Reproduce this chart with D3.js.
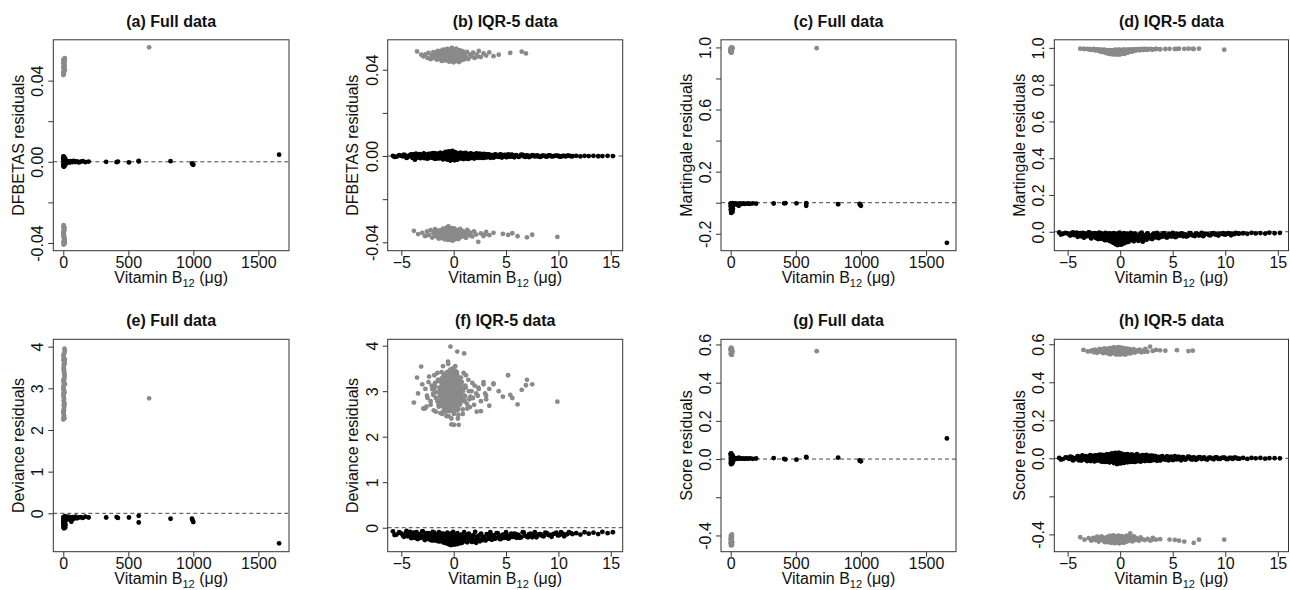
<!DOCTYPE html>
<html>
<head>
<meta charset="utf-8">
<script src="https://cdn.jsdelivr.net/npm/d3@7"></script>
<style>
  body { margin: 0; background: #fff; }
  text { font-family: "Liberation Sans", Arial, sans-serif; fill: #111; }
</style>
</head>
<body>
<svg id="chart" width="1290" height="590"></svg>
<script>
// ---------- IQR-5 data: censored subjects (black) ----------
const iqrCensoredX = [
  -5.8, -5.45, -5.2, -4.85, -4.6, -4.4, -4.15, -3.95, -3.85, -3.7,
  -3.55, -3.4, -3.25, -3.1, -2.95, -2.8, -2.7, -2.55, -2.4, -2.3,
  -2.15, -2.0, -1.9, -1.8, -1.7, -1.6, -1.5, -1.4, -1.3, -1.2,
  -1.1, -1.0, -0.95, -0.88, -0.8, -0.74, -0.68, -0.6, -0.55, -0.5,
  -0.45, -0.4, -0.35, -0.3, -0.25, -0.2, -0.15, -0.1, -0.05, 0.0,
  0.05, 0.1, 0.16, 0.22, 0.3, 0.36, 0.42, 0.5, 0.6, 0.7,
  0.8, 0.9, 1.0, 1.1, 1.2, 1.3, 1.4, 1.5, 1.6, 1.72,
  1.85, 1.95, 2.05, 2.15, 2.25, 2.35, 2.5, 2.62, 2.78, 2.9,
  3.05, 3.2, 3.35, 3.5, 3.68, 3.85, 4.0, 4.2, 4.4, 4.6,
  4.8, 5.0, 5.2, 5.4, 5.6, 5.8, 6.0, 6.2, 6.45, 6.7,
  6.95, 7.2, 7.5, 7.75, 8.0, 8.3, 8.6, 8.9, 9.2, 9.5,
  9.8, 10.1, 10.4, 10.7, 11.0, 11.35, 11.7, 12.1, 12.5, 12.9,
  13.35, 13.8, 14.2, 14.7, 15.2
];
const iqrDfbetasCensored = [
  0.0001, -0.0003, 0.0004, -0.0002, 0.0003, -0.0006, 0.0005, -0.0008, 0.0007, -0.0017,
  0.0006, -0.0007, 0.0009, -0.0005, 0.0008, -0.0010, 0.0004, -0.0012, 0.0010, -0.0006,
  0.0011, -0.0009, 0.0007, -0.0013, 0.0012, -0.0004, 0.0009, -0.0011, 0.0014, -0.0008,
  0.0006, -0.0015, 0.0013, -0.0007, 0.0016, -0.0012, 0.0005, -0.0017, 0.0015, -0.0009,
  0.0018, -0.0014, 0.0008, -0.0019, 0.0012, -0.0010, 0.0020, -0.0016, 0.0007, -0.0013,
  0.0017, -0.0011, 0.0014, -0.0008, 0.0010, -0.0015, 0.0012, -0.0006, 0.0009, -0.0012,
  0.0011, -0.0007, 0.0013, -0.0010, 0.0006, -0.0013, 0.0008, -0.0005, 0.0012, -0.0009,
  0.0007, -0.0011, 0.0010, -0.0004, 0.0008, -0.0009, 0.0011, -0.0006, 0.0005, -0.0008,
  0.0009, -0.0005, 0.0007, -0.0008, 0.0004, -0.0006, 0.0008, -0.0003, 0.0006, -0.0007,
  0.0004, -0.0005, 0.0007, -0.0003, 0.0005, -0.0006, 0.0003, -0.0004, 0.0006, -0.0002,
  0.0003, -0.0005, 0.0004, -0.0002, 0.0003, -0.0004, 0.0002, -0.0003, 0.0003, -0.0001,
  0.0002, -0.0003, 0.0001, -0.0002, 0.0002, -0.0001, 0.0001, -0.0002, 0.0001, 0.0000,
  0.0001, -0.0001, 0.0000, 0.0001, 0.0000
];
const iqrMartingaleCensored = [
  -0.004, -0.012, -0.006, -0.015, -0.008, -0.018, -0.005, -0.022, -0.010, -0.025,
  -0.006, -0.028, -0.012, -0.020, -0.004, -0.031, -0.015, -0.026, -0.008, -0.034,
  -0.018, -0.005, -0.038, -0.024, -0.011, -0.041, -0.029, -0.006, -0.045, -0.020,
  -0.034, -0.009, -0.050, -0.026, -0.014, -0.055, -0.040, -0.007, -0.062, -0.031,
  -0.018, -0.068, -0.045, -0.010, -0.072, -0.036, -0.022, -0.065, -0.005, -0.052,
  -0.029, -0.070, -0.014, -0.058, -0.040, -0.008, -0.061, -0.025, -0.048, -0.012,
  -0.055, -0.033, -0.006, -0.046, -0.020, -0.052, -0.011, -0.038, -0.027, -0.049,
  -0.015, -0.042, -0.005, -0.054, -0.030, -0.018, -0.044, -0.009, -0.036, -0.024,
  -0.040, -0.012, -0.030, -0.006, -0.034, -0.020, -0.026, -0.008, -0.031, -0.015,
  -0.024, -0.006, -0.028, -0.013, -0.020, -0.009, -0.025, -0.014, -0.022, -0.007,
  -0.018, -0.010, -0.021, -0.006, -0.016, -0.011, -0.019, -0.008, -0.014, -0.010,
  -0.007, -0.013, -0.009, -0.012, -0.006, -0.010, -0.008, -0.011, -0.006, -0.009,
  -0.007, -0.010, -0.005, -0.008, -0.006
];
const iqrDevianceCensored = [
  -0.08, -0.15, -0.10, -0.17, -0.12, -0.19, -0.09, -0.21, -0.14, -0.22,
  -0.10, -0.24, -0.15, -0.20, -0.08, -0.25, -0.17, -0.23, -0.12, -0.26,
  -0.19, -0.09, -0.28, -0.22, -0.14, -0.29, -0.24, -0.10, -0.30, -0.20,
  -0.26, -0.13, -0.32, -0.23, -0.16, -0.33, -0.28, -0.11, -0.35, -0.25,
  -0.19, -0.37, -0.30, -0.13, -0.38, -0.27, -0.21, -0.36, -0.09, -0.32,
  -0.24, -0.37, -0.16, -0.34, -0.28, -0.12, -0.35, -0.22, -0.31, -0.15,
  -0.33, -0.25, -0.10, -0.30, -0.20, -0.32, -0.14, -0.27, -0.23, -0.31,
  -0.17, -0.29, -0.09, -0.33, -0.24, -0.18, -0.30, -0.13, -0.27, -0.22,
  -0.28, -0.15, -0.24, -0.10, -0.26, -0.19, -0.23, -0.12, -0.25, -0.17,
  -0.22, -0.10, -0.24, -0.16, -0.20, -0.13, -0.22, -0.16, -0.21, -0.11,
  -0.19, -0.14, -0.21, -0.10, -0.18, -0.14, -0.19, -0.12, -0.16, -0.14,
  -0.11, -0.16, -0.13, -0.15, -0.10, -0.14, -0.12, -0.15, -0.10, -0.13,
  -0.11, -0.14, -0.09, -0.12, -0.10
];
const iqrScoreCensored = [
  0.002, -0.004, 0.005, -0.003, 0.006, -0.008, 0.004, -0.010, 0.008, -0.012,
  0.010, -0.006, 0.012, -0.011, 0.007, -0.014, 0.013, -0.008, 0.015, -0.012,
  0.016, -0.010, 0.012, -0.017, 0.018, -0.008, 0.014, -0.019, 0.020, -0.013,
  0.009, -0.021, 0.022, -0.012, 0.024, -0.018, 0.011, -0.025, 0.023, -0.015,
  0.026, -0.022, 0.013, -0.030, 0.020, -0.016, 0.028, -0.027, 0.010, -0.020,
  0.025, -0.018, 0.021, -0.012, 0.017, -0.024, 0.019, -0.010, 0.015, -0.021,
  0.018, -0.011, 0.020, -0.016, 0.010, -0.019, 0.014, -0.008, 0.022, -0.015,
  0.012, -0.017, 0.016, -0.007, 0.013, -0.014, 0.018, -0.010, 0.009, -0.013,
  0.014, -0.008, 0.011, -0.013, 0.007, -0.010, 0.012, -0.005, 0.009, -0.011,
  0.007, -0.009, 0.011, -0.005, 0.008, -0.010, 0.006, -0.007, 0.009, -0.004,
  0.005, -0.008, 0.006, -0.004, 0.005, -0.006, 0.004, -0.005, 0.005, -0.003,
  0.003, -0.004, 0.002, -0.003, 0.003, -0.002, 0.002, -0.003, 0.002, 0.000,
  0.002, -0.002, 0.001, 0.001, 0.000
];

// second batch of censored subjects (fills the middle of the bands)
const iqrCensoredX2 = [
  -5.65, -5.05, -4.75, -4.5, -4.25, -4.05, -3.8, -3.6, -3.45, -3.3,
  -3.15, -3.0, -2.85, -2.75, -2.6, -2.45, -2.35, -2.25, -2.1, -1.95,
  -1.85, -1.75, -1.65, -1.55, -1.45, -1.35, -1.25, -1.15, -1.05, -0.98,
  -0.92, -0.84, -0.77, -0.71, -0.64, -0.58, -0.52, -0.47, -0.42, -0.37,
  -0.32, -0.27, -0.22, -0.17, -0.12, -0.07, -0.02, 0.03, 0.08, 0.13,
  0.19, 0.26, 0.33, 0.39, 0.46, 0.55, 0.65, 0.75, 0.85, 0.95,
  1.05, 1.15, 1.25, 1.35, 1.45, 1.55, 1.67, 1.8, 1.9, 2.0,
  2.2, 2.4, 2.55, 2.7, 2.85, 3.0, 3.15, 3.3, 3.45, 3.6,
  3.78, 3.95, 4.1, 4.3, 4.5, 4.7, 4.9, 5.1, 5.3, 5.5,
  5.7, 5.95, 6.3, 6.6, 6.85, 7.1, 7.35, 7.65, 7.9, 8.15,
  8.45, 8.75, 9.05, 9.35, 9.65, 9.95, 10.25, 10.55, 10.85, 11.2
];
const iqrDfbetasCensored2 = [
  -0.0004, 0.0002, 0.0006, -0.0009, 0.0001, 0.0008, -0.0005, 0.0011, -0.0002, 0.0004,
  -0.0010, 0.0003, 0.0012, -0.0003, 0.0006, -0.0011, 0.0001, 0.0009, -0.0007, 0.0013,
  -0.0002, 0.0007, -0.0012, 0.0003, 0.0010, -0.0006, 0.0015, 0.0000, -0.0014, 0.0005,
  0.0011, -0.0003, 0.0019, -0.0010, 0.0002, 0.0014, -0.0007, 0.0022, -0.0002, 0.0009,
  -0.0021, 0.0004, 0.0016, -0.0006, 0.0024, -0.0012, 0.0001, 0.0010, -0.0020, 0.0018,
  -0.0004, 0.0007, -0.0017, 0.0013, 0.0002, -0.0009, 0.0016, -0.0003, 0.0008, -0.0014,
  0.0004, 0.0015, -0.0006, 0.0009, -0.0013, 0.0002, 0.0011, -0.0004, 0.0006, -0.0010,
  0.0012, -0.0002, 0.0005, -0.0009, 0.0010, 0.0001, -0.0006, 0.0008, -0.0003, 0.0004,
  -0.0007, 0.0006, 0.0000, -0.0004, 0.0007, -0.0002, 0.0005, -0.0005, 0.0002, 0.0006,
  -0.0003, 0.0004, -0.0001, 0.0005, -0.0004, 0.0002, -0.0002, 0.0003, 0.0000, -0.0003,
  0.0002, -0.0001, 0.0003, -0.0002, 0.0001, 0.0002, -0.0003, 0.0001, 0.0002, -0.0001
];
const iqrMartingaleCensored2 = [
  -0.015, -0.009, -0.021, -0.003, -0.013, -0.027, -0.007, -0.018, -0.032, -0.011,
  -0.024, -0.004, -0.017, -0.036, -0.009, -0.022, -0.029, -0.013, -0.040, -0.019,
  -0.008, -0.033, -0.025, -0.014, -0.046, -0.021, -0.037, -0.010, -0.030, -0.051,
  -0.017, -0.043, -0.026, -0.058, -0.012, -0.035, -0.049, -0.022, -0.064, -0.039,
  -0.028, -0.055, -0.016, -0.044, -0.069, -0.033, -0.024, -0.059, -0.041, -0.019,
  -0.050, -0.036, -0.063, -0.022, -0.047, -0.031, -0.056, -0.016, -0.042, -0.027,
  -0.037, -0.019, -0.044, -0.029, -0.010, -0.039, -0.024, -0.047, -0.016, -0.032,
  -0.026, -0.038, -0.013, -0.030, -0.021, -0.035, -0.011, -0.028, -0.018, -0.033,
  -0.016, -0.027, -0.009, -0.023, -0.030, -0.013, -0.025, -0.018, -0.029, -0.011,
  -0.021, -0.013, -0.026, -0.008, -0.019, -0.023, -0.011, -0.017, -0.024, -0.012,
  -0.018, -0.009, -0.015, -0.021, -0.012, -0.016, -0.008, -0.019, -0.013, -0.010
];
const iqrDevianceCensored2 = [
  -0.16, -0.12, -0.20, -0.07, -0.15, -0.23, -0.11, -0.19, -0.25, -0.14,
  -0.22, -0.08, -0.18, -0.27, -0.12, -0.21, -0.24, -0.15, -0.28, -0.19,
  -0.11, -0.26, -0.22, -0.16, -0.30, -0.20, -0.27, -0.13, -0.24, -0.32,
  -0.18, -0.29, -0.23, -0.34, -0.15, -0.26, -0.31, -0.21, -0.36, -0.28,
  -0.24, -0.33, -0.17, -0.30, -0.37, -0.26, -0.22, -0.35, -0.29, -0.19,
  -0.32, -0.27, -0.36, -0.20, -0.31, -0.25, -0.34, -0.17, -0.29, -0.23,
  -0.28, -0.19, -0.30, -0.24, -0.13, -0.28, -0.21, -0.31, -0.17, -0.26,
  -0.23, -0.28, -0.15, -0.25, -0.20, -0.27, -0.14, -0.24, -0.18, -0.26,
  -0.17, -0.24, -0.12, -0.21, -0.25, -0.15, -0.22, -0.18, -0.23, -0.13,
  -0.20, -0.14, -0.22, -0.10, -0.18, -0.21, -0.13, -0.17, -0.21, -0.14,
  -0.18, -0.11, -0.16, -0.20, -0.13, -0.17, -0.10, -0.19, -0.14, -0.12
];
const iqrScoreCensored2 = [
  -0.006, 0.003, 0.009, -0.011, 0.001, 0.012, -0.007, 0.015, -0.003, 0.006,
  -0.014, 0.004, 0.017, -0.005, 0.009, -0.016, 0.002, 0.013, -0.010, 0.019,
  -0.003, 0.010, -0.018, 0.005, 0.015, -0.009, 0.021, 0.000, -0.020, 0.008,
  0.016, -0.004, 0.025, -0.014, 0.003, 0.020, -0.010, 0.028, -0.003, 0.013,
  -0.028, 0.006, 0.022, -0.008, 0.029, -0.017, 0.002, 0.014, -0.026, 0.024,
  -0.006, 0.010, -0.023, 0.018, 0.003, -0.013, 0.022, -0.004, 0.011, -0.019,
  0.006, 0.020, -0.008, 0.013, -0.018, 0.003, 0.016, -0.006, 0.009, -0.014,
  0.017, -0.003, 0.007, -0.013, 0.014, 0.001, -0.009, 0.011, -0.004, 0.006,
  -0.010, 0.008, 0.000, -0.006, 0.010, -0.003, 0.007, -0.007, 0.003, 0.008,
  -0.005, 0.006, -0.002, 0.007, -0.006, 0.003, -0.003, 0.005, 0.000, -0.004,
  0.004, -0.002, 0.005, -0.003, 0.002, 0.003, -0.004, 0.002, 0.003, -0.002
];

// ---------- IQR-5 data: events (grey), covariate group A and group B ----------
const iqrEventXA = [
  -3.5, -2.9, -2.7, -2.5, -2.4, -2.2, -2.1, -1.95, -1.85, -1.7,
  -1.6, -1.5, -1.42, -1.35, -1.25, -1.15, -1.08, -1.0, -0.92, -0.85,
  -0.8, -0.74, -0.68, -0.62, -0.57, -0.52, -0.46, -0.41, -0.36, -0.31,
  -0.27, -0.22, -0.18, -0.13, -0.09, -0.05, -0.01, 0.03, 0.07, 0.11,
  0.15, 0.2, 0.24, 0.29, 0.34, 0.39, 0.45, 0.51, 0.57, 0.64,
  0.71, 0.78, 0.86, 0.95, 1.05, 1.15, 1.27, 1.4, 1.55, 1.7,
  1.85, 2.0, 2.2, 2.4, 2.6, 2.85, 3.1, 3.4, 3.8, 4.3,
  5.4, 6.5, 6.9, -3.1, -0.3, 0.0, 0.4, -0.6, 1.0, 2.3
];
const iqrEventXB = [
  -3.8, -3.4, -3.0, -2.75, -2.55, -2.35, -2.2, -2.05, -1.9, -1.78,
  -1.65, -1.55, -1.45, -1.36, -1.27, -1.18, -1.1, -1.02, -0.94, -0.87,
  -0.8, -0.73, -0.66, -0.6, -0.54, -0.48, -0.42, -0.37, -0.32, -0.27,
  -0.22, -0.17, -0.12, -0.07, -0.03, 0.02, 0.06, 0.1, 0.15, 0.2,
  0.25, 0.3, 0.36, 0.42, 0.48, 0.55, 0.62, 0.7, 0.78, 0.87,
  0.96, 1.06, 1.17, 1.3, 1.45, 1.6, 1.78, 1.95, 2.15, 2.35,
  2.6, 2.85, 3.1, 3.4, 3.8, 4.7, 5.2, 5.6, 6.1, 7.0,
  7.5, 9.9, -0.5, 0.0, 0.5, -1.2, 0.8, -2.6, 1.5, 3.0
];
const iqrDfbetasEventA = [
  0.0485, 0.0462, 0.0471, 0.0455, 0.0478, 0.0449, 0.0466, 0.0482, 0.0458, 0.0474,
  0.0447, 0.0488, 0.0463, 0.0452, 0.0479, 0.0441, 0.0469, 0.0493, 0.0456, 0.0476,
  0.0444, 0.0484, 0.0460, 0.0497, 0.0451, 0.0473, 0.0438, 0.0490, 0.0466, 0.0446,
  0.0481, 0.0458, 0.0501, 0.0443, 0.0470, 0.0487, 0.0435, 0.0464, 0.0495, 0.0452,
  0.0477, 0.0440, 0.0498, 0.0461, 0.0484, 0.0448, 0.0472, 0.0436, 0.0491, 0.0457,
  0.0469, 0.0445, 0.0486, 0.0454, 0.0475, 0.0460, 0.0483, 0.0450, 0.0471, 0.0462,
  0.0479, 0.0455, 0.0470, 0.0487, 0.0459, 0.0476, 0.0466, 0.0481, 0.0463, 0.0470,
  0.0478, 0.0484, 0.0476, 0.0470, 0.0459, 0.0444, 0.0467, 0.0480, 0.0448, 0.0462
];
const iqrDfbetasEventB = [
  -0.0347, -0.0362, -0.0356, -0.0371, -0.0350, -0.0366, -0.0344, -0.0378, -0.0358, -0.0339,
  -0.0369, -0.0352, -0.0383, -0.0361, -0.0345, -0.0375, -0.0355, -0.0337, -0.0368, -0.0386,
  -0.0349, -0.0373, -0.0331, -0.0360, -0.0389, -0.0353, -0.0376, -0.0342, -0.0365, -0.0381,
  -0.0357, -0.0334, -0.0372, -0.0391, -0.0348, -0.0363, -0.0380, -0.0340, -0.0369, -0.0354,
  -0.0377, -0.0346, -0.0362, -0.0385, -0.0351, -0.0370, -0.0338, -0.0359, -0.0374, -0.0348,
  -0.0366, -0.0355, -0.0379, -0.0343, -0.0368, -0.0357, -0.0373, -0.0350, -0.0364, -0.0398,
  -0.0359, -0.0371, -0.0352, -0.0367, -0.0356, -0.0361, -0.0366, -0.0358, -0.0372, -0.0377,
  -0.0365, -0.0375, -0.0326, -0.0344, -0.0382, -0.0360, -0.0347, -0.0369, -0.0354, -0.0363
];
const iqrMartingaleEventA = [
  0.995, 0.993, 0.990, 0.994, 0.988, 0.992, 0.986, 0.991, 0.984, 0.989,
  0.982, 0.990, 0.980, 0.987, 0.978, 0.985, 0.976, 0.988, 0.974, 0.983,
  0.972, 0.986, 0.970, 0.981, 0.968, 0.984, 0.975, 0.990, 0.966, 0.979,
  0.987, 0.971, 0.983, 0.969, 0.991, 0.977, 0.973, 0.986, 0.980, 0.970,
  0.988, 0.975, 0.984, 0.972, 0.990, 0.978, 0.985, 0.974, 0.989, 0.981,
  0.986, 0.979, 0.991, 0.983, 0.988, 0.980, 0.992, 0.985, 0.989, 0.993,
  0.987, 0.992, 0.989, 0.994, 0.990, 0.993, 0.991, 0.995, 0.992, 0.994,
  0.995, 0.996, 0.995, 0.994, 0.982, 0.976, 0.984, 0.978, 0.990, 0.993
];
const iqrMartingaleEventB = [
  0.996, 0.994, 0.992, 0.989, 0.993, 0.987, 0.991, 0.985, 0.990, 0.983,
  0.988, 0.981, 0.986, 0.979, 0.984, 0.977, 0.987, 0.975, 0.982, 0.973,
  0.985, 0.971, 0.980, 0.969, 0.983, 0.967, 0.978, 0.988, 0.972, 0.982,
  0.968, 0.985, 0.974, 0.989, 0.970, 0.981, 0.976, 0.987, 0.973, 0.984,
  0.977, 0.990, 0.979, 0.986, 0.982, 0.988, 0.980, 0.991, 0.984, 0.987,
  0.989, 0.985, 0.991, 0.987, 0.992, 0.988, 0.993, 0.990, 0.994, 0.991,
  0.993, 0.995, 0.992, 0.994, 0.993, 0.995, 0.994, 0.996, 0.995, 0.994,
  0.996, 0.990, 0.975, 0.972, 0.980, 0.983, 0.986, 0.991, 0.988, 0.992
];
const iqrDevianceEventA = [
  3.30, 2.62, 3.05, 2.85, 3.20, 2.70, 3.12, 2.92, 3.35, 2.55,
  2.98, 3.25, 2.66, 3.08, 2.80, 3.42, 2.50, 3.15, 2.88, 3.30,
  2.72, 3.05, 2.45, 3.22, 2.93, 3.60, 2.62, 3.38, 2.80, 3.98,
  3.10, 2.40, 3.28, 2.85, 3.50, 2.68, 3.02, 2.26, 3.18, 2.90,
  3.45, 2.58, 3.12, 2.75, 3.87, 2.95, 2.48, 3.30, 2.70, 3.05,
  2.82, 3.20, 2.60, 3.40, 2.90, 3.08, 2.72, 3.25, 2.65, 3.00,
  2.85, 3.12, 2.55, 3.05, 2.78, 3.20, 2.90, 2.68, 3.15, 3.00,
  2.92, 3.03, 3.13, 3.54, 2.75, 3.25, 2.40, 3.15, 3.83, 2.90
];
const iqrDevianceEventB = [
  2.75, 2.95, 3.15, 2.62, 2.90, 3.32, 2.78, 3.05, 2.58, 3.18,
  2.85, 3.40, 2.70, 3.00, 2.52, 3.25, 2.92, 3.55, 2.65, 3.10,
  3.35, 2.55, 3.02, 2.75, 3.65, 2.45, 3.15, 2.88, 3.45, 2.60,
  2.27, 3.08, 2.70, 3.38, 2.92, 2.50, 3.22, 2.80, 3.55, 2.65,
  2.96, 3.42, 2.58, 3.15, 2.26, 3.05, 2.72, 3.30, 2.85, 2.50,
  3.10, 2.78, 3.35, 2.62, 3.00, 2.88, 3.18, 2.70, 2.95, 3.08,
  2.56, 3.15, 2.82, 3.05, 3.17, 2.88, 3.35, 2.85, 2.71, 3.25,
  3.15, 2.77, 2.98, 3.12, 2.88, 2.95, 3.02, 2.66, 2.82, 2.95
];
const iqrScoreEventA = [
  0.570, 0.562, 0.568, 0.558, 0.572, 0.555, 0.566, 0.575, 0.560, 0.569,
  0.553, 0.578, 0.563, 0.557, 0.574, 0.551, 0.567, 0.580, 0.559, 0.571,
  0.552, 0.576, 0.561, 0.583, 0.556, 0.570, 0.549, 0.579, 0.564, 0.554,
  0.573, 0.558, 0.585, 0.550, 0.568, 0.577, 0.547, 0.562, 0.582, 0.555,
  0.571, 0.548, 0.580, 0.560, 0.575, 0.553, 0.566, 0.546, 0.578, 0.559,
  0.567, 0.552, 0.576, 0.557, 0.570, 0.561, 0.574, 0.556, 0.568, 0.563,
  0.572, 0.558, 0.566, 0.575, 0.561, 0.587, 0.565, 0.570, 0.568, 0.566,
  0.569, 0.564, 0.566, 0.563, 0.556, 0.549, 0.565, 0.574, 0.552, 0.560
];
const iqrScoreEventB = [
  -0.415, -0.428, -0.420, -0.433, -0.418, -0.430, -0.412, -0.438, -0.424, -0.410,
  -0.431, -0.419, -0.441, -0.425, -0.414, -0.436, -0.422, -0.408, -0.429, -0.444,
  -0.416, -0.434, -0.405, -0.427, -0.446, -0.418, -0.437, -0.411, -0.430, -0.440,
  -0.421, -0.406, -0.435, -0.447, -0.413, -0.428, -0.439, -0.409, -0.432, -0.419,
  -0.436, -0.412, -0.426, -0.442, -0.417, -0.431, -0.407, -0.423, -0.434, -0.415,
  -0.395, -0.420, -0.437, -0.411, -0.429, -0.422, -0.433, -0.416, -0.426, -0.430,
  -0.424, -0.432, -0.419, -0.428, -0.425, -0.427, -0.429, -0.433, -0.438, -0.445,
  -0.428, -0.428, -0.425, -0.436, -0.414, -0.431, -0.420, -0.426, -0.418, -0.430
];

// events in the dense core of the cloud
const iqrEventCoreXA = [
  -1.95, -1.75, -1.55, -1.4, -1.28, -1.12, -0.98, -0.88, -0.78, -0.7,
  -0.63, -0.56, -0.49, -0.43, -0.38, -0.33, -0.28, -0.24, -0.19, -0.14,
  -0.1, -0.06, -0.02, 0.02, 0.06, 0.1, 0.14, 0.19, 0.24, 0.3,
  0.36, 0.43, 0.5, 0.58, 0.67, 0.76, 0.88, 1.0, 1.12, -1.2,
  -1.3, -1.22, -1.14, -1.06, -0.99, -0.93, -0.87, -0.81, -0.76, -0.71,
  -0.66, -0.61, -0.57, -0.53, -0.49, -0.45, -0.41, -0.37, -0.34, -0.3,
  -0.26, -0.23, -0.19, -0.16, -0.12, -0.09, -0.05, -0.02, 0.01, 0.05,
  0.08, 0.12, 0.16, 0.2, 0.25, 0.3, 0.36, 0.42, 0.49, 0.56,
  0.63, 0.7, -0.95, -0.65, -0.35, -0.1, 0.18, 0.45, -0.5, -0.2
];
const iqrEventCoreXB = [
  -1.9, -1.7, -1.5, -1.33, -1.22, -1.06, -0.97, -0.9, -0.83, -0.76,
  -0.69, -0.63, -0.57, -0.51, -0.45, -0.4, -0.35, -0.3, -0.25, -0.2,
  -0.15, -0.1, -0.05, 0.0, 0.04, 0.08, 0.12, 0.17, 0.22, 0.28,
  0.34, 0.4, 0.46, 0.53, 0.6, 0.68, 0.82, 0.92, 1.1, -1.15,
  -1.28, -1.2, -1.12, -1.04, -0.97, -0.91, -0.85, -0.8, -0.75, -0.7,
  -0.65, -0.6, -0.56, -0.52, -0.48, -0.44, -0.4, -0.36, -0.32, -0.29,
  -0.25, -0.21, -0.18, -0.14, -0.11, -0.07, -0.04, 0.0, 0.03, 0.07,
  0.1, 0.14, 0.18, 0.23, 0.28, 0.33, 0.39, 0.45, 0.52, 0.6,
  0.68, -1.0, -0.78, -0.55, -0.3, -0.05, 0.22, 0.5, -0.42, 0.12
];
const iqrDfbetasEventCoreA = [
  0.0468, 0.0452, 0.0485, 0.0460, 0.0474, 0.0449, 0.0490, 0.0463, 0.0478, 0.0455,
  0.0488, 0.0467, 0.0445, 0.0481, 0.0458, 0.0494, 0.0471, 0.0450, 0.0485, 0.0462,
  0.0476, 0.0442, 0.0496, 0.0468, 0.0453, 0.0483, 0.0460, 0.0489, 0.0447, 0.0474,
  0.0465, 0.0486, 0.0451, 0.0479, 0.0457, 0.0472, 0.0461, 0.0469, 0.0456, 0.0473,
  0.0472, 0.0458, 0.0489, 0.0464, 0.0480, 0.0451, 0.0476, 0.0492, 0.0460, 0.0484,
  0.0455, 0.0470, 0.0496, 0.0462, 0.0448, 0.0482, 0.0467, 0.0490, 0.0457, 0.0475,
  0.0446, 0.0486, 0.0463, 0.0499, 0.0453, 0.0478, 0.0442, 0.0469, 0.0493, 0.0459,
  0.0481, 0.0465, 0.0488, 0.0450, 0.0473, 0.0461, 0.0485, 0.0447, 0.0468, 0.0477,
  0.0456, 0.0471, 0.0444, 0.0487, 0.0439, 0.0495, 0.0452, 0.0483, 0.0466, 0.0474
];
const iqrDfbetasEventCoreB = [
  -0.0358, -0.0372, -0.0346, -0.0365, -0.0381, -0.0352, -0.0369, -0.0340, -0.0376, -0.0361,
  -0.0349, -0.0384, -0.0357, -0.0370, -0.0343, -0.0379, -0.0363, -0.0351, -0.0387, -0.0366,
  -0.0354, -0.0374, -0.0341, -0.0368, -0.0382, -0.0356, -0.0371, -0.0347, -0.0362, -0.0378,
  -0.0353, -0.0367, -0.0345, -0.0373, -0.0359, -0.0364, -0.0350, -0.0370, -0.0357, -0.0362,
  -0.0363, -0.0348, -0.0377, -0.0355, -0.0370, -0.0342, -0.0384, -0.0359, -0.0367, -0.0351,
  -0.0380, -0.0345, -0.0372, -0.0361, -0.0388, -0.0353, -0.0368, -0.0339, -0.0375, -0.0357,
  -0.0383, -0.0349, -0.0366, -0.0392, -0.0344, -0.0371, -0.0356, -0.0379, -0.0336, -0.0364,
  -0.0386, -0.0352, -0.0369, -0.0343, -0.0376, -0.0360, -0.0382, -0.0347, -0.0373, -0.0358,
  -0.0365, -0.0350, -0.0378, -0.0341, -0.0385, -0.0354, -0.0370, -0.0346, -0.0374, -0.0362
];
const iqrMartingaleEventCoreA = [
  0.984, 0.979, 0.987, 0.975, 0.982, 0.971, 0.986, 0.977, 0.969, 0.983,
  0.974, 0.988, 0.968, 0.980, 0.973, 0.985, 0.967, 0.978, 0.982, 0.970,
  0.986, 0.975, 0.965, 0.981, 0.972, 0.984, 0.976, 0.969, 0.987, 0.978,
  0.983, 0.973, 0.986, 0.979, 0.984, 0.977, 0.985, 0.981, 0.988, 0.979,
  0.981, 0.975, 0.986, 0.972, 0.983, 0.968, 0.979, 0.985, 0.970, 0.977,
  0.966, 0.982, 0.988, 0.974, 0.969, 0.980, 0.976, 0.984, 0.971, 0.978,
  0.967, 0.983, 0.973, 0.987, 0.970, 0.979, 0.965, 0.975, 0.985, 0.972,
  0.981, 0.976, 0.986, 0.969, 0.978, 0.974, 0.982, 0.968, 0.977, 0.980,
  0.973, 0.979, 0.967, 0.984, 0.966, 0.987, 0.971, 0.983, 0.975, 0.978
];
const iqrMartingaleEventCoreB = [
  0.981, 0.986, 0.976, 0.983, 0.970, 0.979, 0.985, 0.973, 0.967, 0.982,
  0.975, 0.987, 0.969, 0.978, 0.984, 0.971, 0.980, 0.966, 0.983, 0.974,
  0.986, 0.968, 0.977, 0.982, 0.972, 0.985, 0.970, 0.979, 0.975, 0.984,
  0.978, 0.986, 0.973, 0.981, 0.976, 0.984, 0.980, 0.987, 0.983, 0.977,
  0.978, 0.984, 0.971, 0.980, 0.967, 0.983, 0.974, 0.986, 0.969, 0.979,
  0.976, 0.965, 0.982, 0.972, 0.985, 0.968, 0.977, 0.981, 0.970, 0.984,
  0.973, 0.966, 0.980, 0.975, 0.987, 0.969, 0.978, 0.982, 0.971, 0.985,
  0.974, 0.968, 0.983, 0.977, 0.972, 0.986, 0.970, 0.979, 0.976, 0.981,
  0.974, 0.983, 0.967, 0.978, 0.985, 0.971, 0.980, 0.975, 0.969, 0.982
];
const iqrDevianceEventCoreA = [
  2.95, 3.10, 2.78, 3.25, 2.88, 3.05, 2.70, 3.18, 2.92, 3.35,
  2.82, 3.00, 3.28, 2.62, 3.12, 2.85, 3.45, 2.98, 2.72, 3.20,
  2.90, 3.38, 2.58, 3.08, 2.80, 3.30, 2.95, 2.68, 3.15, 2.87,
  3.02, 2.75, 3.22, 2.93, 3.10, 2.83, 3.00, 2.78, 3.12, 2.96,
  3.02, 2.74, 3.28, 2.88, 3.15, 2.66, 3.36, 2.95, 2.80, 3.22,
  2.70, 3.08, 3.40, 2.86, 2.60, 3.18, 2.98, 3.32, 2.76, 3.05,
  2.64, 3.25, 2.92, 3.44, 2.82, 3.12, 2.68, 3.00, 3.30, 2.78,
  3.16, 2.90, 3.38, 2.72, 3.06, 2.84, 3.20, 2.62, 2.96, 3.10,
  2.80, 3.02, 2.58, 3.34, 2.56, 3.42, 2.66, 3.26, 2.94, 2.88
];
const iqrDevianceEventCoreB = [
  3.05, 2.85, 3.22, 2.95, 2.68, 3.12, 2.90, 3.30, 2.76, 3.02,
  3.40, 2.82, 3.15, 2.60, 2.98, 3.26, 2.88, 3.48, 2.72, 3.08,
  2.92, 3.32, 2.65, 3.18, 2.85, 3.00, 3.42, 2.78, 3.10, 2.90,
  3.20, 2.70, 3.05, 2.84, 3.16, 2.94, 2.80, 3.06, 2.88, 3.12,
  2.90, 3.20, 2.72, 3.06, 3.34, 2.82, 3.12, 2.64, 2.98, 3.28,
  2.76, 3.42, 2.92, 3.04, 2.68, 3.24, 2.86, 3.14, 2.58, 3.36,
  2.96, 2.74, 3.18, 2.84, 3.46, 2.70, 3.08, 2.90, 3.30, 2.62,
  3.00, 3.22, 2.78, 3.10, 2.88, 3.38, 2.66, 3.04, 2.82, 3.16,
  2.94, 3.26, 2.60, 2.86, 3.14, 2.72, 3.32, 2.98, 3.44, 2.76
];
const iqrScoreEventCoreA = [
  0.566, 0.558, 0.573, 0.561, 0.569, 0.554, 0.577, 0.563, 0.571, 0.557,
  0.575, 0.565, 0.552, 0.572, 0.560, 0.578, 0.568, 0.555, 0.574, 0.562,
  0.570, 0.551, 0.580, 0.566, 0.558, 0.573, 0.561, 0.576, 0.554, 0.568,
  0.563, 0.574, 0.557, 0.571, 0.560, 0.567, 0.562, 0.565, 0.559, 0.569,
  0.567, 0.559, 0.576, 0.562, 0.571, 0.553, 0.569, 0.579, 0.560, 0.574,
  0.556, 0.565, 0.581, 0.561, 0.551, 0.575, 0.563, 0.578, 0.557, 0.570,
  0.550, 0.576, 0.562, 0.584, 0.555, 0.572, 0.548, 0.566, 0.580, 0.558,
  0.573, 0.564, 0.577, 0.552, 0.569, 0.561, 0.575, 0.549, 0.567, 0.571,
  0.557, 0.568, 0.547, 0.578, 0.546, 0.582, 0.554, 0.574, 0.563, 0.566
];
const iqrScoreEventCoreB = [
  -0.425, -0.417, -0.434, -0.421, -0.440, -0.413, -0.429, -0.436, -0.419, -0.431,
  -0.411, -0.438, -0.424, -0.416, -0.442, -0.427, -0.420, -0.433, -0.414, -0.439,
  -0.426, -0.418, -0.435, -0.422, -0.430, -0.412, -0.437, -0.423, -0.428, -0.443,
  -0.419, -0.432, -0.426, -0.415, -0.436, -0.421, -0.429, -0.424, -0.433, -0.427,
  -0.422, -0.433, -0.416, -0.429, -0.441, -0.419, -0.436, -0.425, -0.412, -0.438,
  -0.427, -0.418, -0.443, -0.421, -0.431, -0.414, -0.439, -0.424, -0.434, -0.417,
  -0.429, -0.444, -0.420, -0.432, -0.413, -0.437, -0.426, -0.419, -0.440, -0.423,
  -0.430, -0.415, -0.435, -0.428, -0.421, -0.442, -0.418, -0.433, -0.425, -0.437,
  -0.427, -0.416, -0.439, -0.422, -0.431, -0.420, -0.436, -0.424, -0.411, -0.434
];

// ---------- Full data (vitamin B12 in µg): censored subjects (black) ----------
const fullCensoredX = [
  0.5, 1.2, 2.0, 2.8, 3.5, 4.3, 5.1, 6.0, 6.8, 7.7,
  8.5, 9.4, 10.3, 11.1, 12.0, 13.2, 14.5, 15.8, 17.0, 18.5,
  0.9, 2.4, 3.9, 5.6, 7.2, 8.9, 10.8, 1.6, 4.7, 12.8,
  25, 32, 40, 48, 55, 62, 70, 80, 95, 105,
  120, 135, 150, 170, 195,
  330, 410, 420, 505, 580, 580, 825, 990, 995, 1000, 1660
];
const fullDfbetasCensored = [
  0.0018, -0.0012, 0.0008, -0.0022, 0.0024, -0.0005, 0.0013, -0.0017, 0.0003, -0.0009,
  0.0020, -0.0014, 0.0006, -0.0020, 0.0011, -0.0003, 0.0016, -0.0008, 0.0004, -0.0011,
  0.0022, -0.0019, 0.0009, -0.0006, 0.0014, -0.0016, 0.0002, 0.0026, -0.0024, 0.0007,
  0.0005, -0.0003, 0.0002, -0.0004, 0.0003, 0.0001, -0.0002, 0.0004, -0.0001, 0.0002,
  -0.0003, 0.0001, 0.0003, -0.0002, 0.0001,
  0.0000, -0.0002, 0.0001, -0.0003, 0.0002, 0.0004, 0.0003, -0.0008, -0.0012, -0.0015, 0.0035
];
const fullMartingaleCensored = [
  -0.004, -0.015, -0.028, -0.008, -0.042, -0.020, -0.055, -0.011, -0.035, -0.062,
  -0.006, -0.024, -0.048, -0.013, -0.031, -0.003, -0.058, -0.018, -0.039, -0.009,
  -0.045, -0.026, -0.066, -0.014, -0.051, -0.007, -0.033, -0.021, -0.060, -0.010,
  -0.006, -0.010, -0.004, -0.012, -0.007, -0.020, -0.005, -0.009, -0.004, -0.008,
  -0.006, -0.005, -0.007, -0.004, -0.006,
  -0.005, -0.004, -0.003, -0.004, -0.003, -0.020, -0.010, -0.008, -0.014, -0.020, -0.258
];
const fullDevianceCensored = [
  -0.09, -0.17, -0.24, -0.12, -0.29, -0.20, -0.33, -0.15, -0.26, -0.35,
  -0.10, -0.22, -0.31, -0.16, -0.25, -0.07, -0.34, -0.19, -0.28, -0.13,
  -0.30, -0.23, -0.36, -0.16, -0.32, -0.11, -0.26, -0.21, -0.34, -0.14,
  -0.10, -0.14, -0.08, -0.15, -0.11, -0.20, -0.09, -0.13, -0.08, -0.12,
  -0.10, -0.09, -0.11, -0.08, -0.10,
  -0.10, -0.09, -0.11, -0.10, -0.06, -0.22, -0.13, -0.13, -0.17, -0.21, -0.72
];
const fullScoreCensored = [
  0.021, -0.014, 0.009, -0.025, 0.028, -0.006, 0.016, -0.020, 0.004, -0.011,
  0.024, -0.017, 0.007, -0.023, 0.013, -0.003, 0.019, -0.009, 0.005, -0.013,
  0.026, -0.022, 0.011, -0.007, 0.017, -0.019, 0.002, 0.030, -0.027, 0.008,
  0.006, 0.002, 0.005, 0.001, 0.004, 0.008, 0.003, 0.002, 0.004, 0.001,
  0.003, 0.002, 0.004, 0.001, 0.003,
  0.005, 0.001, -0.002, -0.003, 0.009, 0.011, 0.008, -0.007, -0.010, -0.012, 0.108
];

// ---------- Full data: events (grey), groups A and B ----------
const fullEventXA = [
  2.1, 5.4, 0.8, 9.2, 3.6, 7.1, 1.5, 11.3, 4.2, 6.3,
  0.4, 8.5, 2.9, 12.6, 5.0, 1.1, 7.8, 3.3, 10.2, 6.7,
  0.6, 4.8, 9.9, 2.4, 660
];
const fullEventXB = [
  1.7, 6.1, 3.0, 8.8, 0.9, 4.5, 10.7, 2.6, 7.4, 5.7,
  1.3, 9.5, 3.8, 6.9, 0.5, 11.8, 4.1, 8.1, 2.2, 5.2,
  1.9, 7.0, 3.5, 0.7, 6.4
];
const fullDfbetasEventA = [
  0.0440, 0.0475, 0.0502, 0.0458, 0.0431, 0.0489, 0.0466, 0.0510, 0.0447, 0.0482,
  0.0427, 0.0495, 0.0470, 0.0453, 0.0505, 0.0438, 0.0478, 0.0462, 0.0498, 0.0444,
  0.0486, 0.0455, 0.0468, 0.0492, 0.0564
];
const fullDfbetasEventB = [
  -0.0312, -0.0340, -0.0368, -0.0325, -0.0395, -0.0352, -0.0380, -0.0318, -0.0405, -0.0335,
  -0.0360, -0.0390, -0.0330, -0.0372, -0.0346, -0.0400, -0.0322, -0.0385, -0.0356, -0.0364,
  -0.0408, -0.0338, -0.0376, -0.0349, -0.0393
];
const fullMartingaleEventA = [
  0.998, 0.992, 0.985, 0.995, 0.978, 0.990, 0.972, 0.996, 0.982, 0.988,
  0.975, 0.993, 0.980, 0.997, 0.986, 0.970, 0.991, 0.983, 0.994, 0.977,
  0.989, 0.968, 0.996, 0.984, 0.995
];
const fullMartingaleEventB = [
  0.993, 0.981, 0.997, 0.974, 0.989, 0.966, 0.995, 0.985, 0.979, 0.992,
  0.971, 0.998, 0.983, 0.987, 0.969, 0.994, 0.976, 0.990, 0.980, 0.996,
  0.973, 0.988, 0.991, 0.978, 0.986
];
const fullDevianceEventA = [
  2.30, 3.45, 2.85, 3.95, 2.60, 3.20, 2.45, 3.70, 2.95, 3.35,
  2.25, 3.85, 2.70, 3.10, 3.55, 2.40, 3.25, 2.80, 3.60, 2.55,
  3.05, 3.40, 2.90, 3.75, 2.76
];
const fullDevianceEventB = [
  3.15, 2.35, 3.50, 2.65, 3.80, 2.50, 3.30, 2.90, 3.65, 2.75,
  3.00, 2.28, 3.45, 2.62, 3.20, 3.90, 2.48, 3.38, 2.82, 3.58,
  2.42, 3.12, 2.98, 3.68, 2.58
];
const fullScoreEventA = [
  0.572, 0.560, 0.580, 0.552, 0.568, 0.576, 0.548, 0.564, 0.583, 0.556,
  0.570, 0.545, 0.578, 0.562, 0.550, 0.574, 0.558, 0.581, 0.566, 0.547,
  0.571, 0.559, 0.577, 0.554, 0.565
];
const fullScoreEventB = [
  -0.400, -0.425, -0.445, -0.410, -0.435, -0.418, -0.450, -0.405, -0.430, -0.440,
  -0.415, -0.395, -0.428, -0.447, -0.420, -0.437, -0.408, -0.432, -0.442, -0.412,
  -0.452, -0.423, -0.402, -0.438, -0.417
];

// ---------- axis ticks ----------
const fullXTicks = [0, 500, 1000, 1500];
const iqrXTicks = [-5, 0, 5, 10, 15];
const dfbetasTicks = [-0.04, -0.02, 0, 0.02, 0.04];
const dfbetasLabels = ['-0.04', '', '0.00', '', '0.04'];
const martFullTicks = [-0.2, 0, 0.2, 0.4, 0.6, 0.8, 1.0];
const martFullLabels = ['-0.2', '', '0.2', '', '0.6', '', '1.0'];
const martIqrTicks = [0, 0.2, 0.4, 0.6, 0.8, 1.0];
const martIqrLabels = ['0.0', '0.2', '0.4', '0.6', '0.8', '1.0'];
const devTicks = [0, 1, 2, 3, 4];
const devLabels = ['0', '1', '2', '3', '4'];
const scoreTicks = [-0.4, -0.2, 0, 0.2, 0.4, 0.6];
const scoreLabels = ['-0.4', '', '0.0', '0.2', '0.4', '0.6'];

// ---------- layout ----------
const BLACK = '#000', GREY = '#8a8a8a';
const cols = [[53.3, 289], [387.7, 622.7], [721, 956], [1054.3, 1288.5]];
const rows = [[39.8, 250.7], [339.3, 551.7]];

const panels = [
  { title: '(a) Full data', ylab: 'DFBETAS residuals', col: 0, row: 0,
    xd: [-76.9, 1736], yd: [-0.0438, 0.0601], xt: fullXTicks, yt: dfbetasTicks, yl: dfbetasLabels,
    black: [[fullCensoredX, fullDfbetasCensored]],
    grey: [[fullEventXA, fullDfbetasEventA], [fullEventXB, fullDfbetasEventB]] },
  { title: '(b) IQR-5 data', ylab: 'DFBETAS residuals', col: 1, row: 0,
    xd: [-6.3, 16.14], yd: [-0.0439, 0.0539], xt: iqrXTicks, yt: dfbetasTicks, yl: dfbetasLabels,
    black: [[iqrCensoredX, iqrDfbetasCensored], [iqrCensoredX2, iqrDfbetasCensored2]],
    grey: [[iqrEventXA, iqrDfbetasEventA], [iqrEventXB, iqrDfbetasEventB],
           [iqrEventCoreXA, iqrDfbetasEventCoreA], [iqrEventCoreXB, iqrDfbetasEventCoreB]] },
  { title: '(c) Full data', ylab: 'Martingale residuals', col: 2, row: 0,
    xd: [-74.5, 1730], yd: [-0.309, 1.049], xt: fullXTicks, yt: martFullTicks, yl: martFullLabels,
    black: [[fullCensoredX, fullMartingaleCensored]],
    grey: [[fullEventXA, fullMartingaleEventA], [fullEventXB, fullMartingaleEventB]] },
  { title: '(d) IQR-5 data', ylab: 'Martingale residuals', col: 3, row: 0,
    xd: [-6.27, 16.02], yd: [-0.103, 1.044], xt: iqrXTicks, yt: martIqrTicks, yl: martIqrLabels,
    black: [[iqrCensoredX, iqrMartingaleCensored], [iqrCensoredX2, iqrMartingaleCensored2]],
    grey: [[iqrEventXA, iqrMartingaleEventA], [iqrEventXB, iqrMartingaleEventB],
           [iqrEventCoreXA, iqrMartingaleEventCoreA], [iqrEventCoreXB, iqrMartingaleEventCoreB]] },
  { title: '(e) Full data', ylab: 'Deviance residuals', col: 0, row: 1,
    xd: [-76.9, 1736], yd: [-0.921, 4.176], xt: fullXTicks, yt: devTicks, yl: devLabels,
    black: [[fullCensoredX, fullDevianceCensored]],
    grey: [[fullEventXA, fullDevianceEventA], [fullEventXB, fullDevianceEventB]] },
  { title: '(f) IQR-5 data', ylab: 'Deviance residuals', col: 1, row: 1,
    xd: [-6.3, 16.14], yd: [-0.527, 4.14], xt: iqrXTicks, yt: devTicks, yl: devLabels,
    black: [[iqrCensoredX, iqrDevianceCensored], [iqrCensoredX2, iqrDevianceCensored2]],
    grey: [[iqrEventXA, iqrDevianceEventA], [iqrEventXB, iqrDevianceEventB],
           [iqrEventCoreXA, iqrDevianceEventCoreA], [iqrEventCoreXB, iqrDevianceEventCoreB]] },
  { title: '(g) Full data', ylab: 'Score residuals', col: 2, row: 1,
    xd: [-74.5, 1730], yd: [-0.485, 0.627], xt: fullXTicks, yt: scoreTicks, yl: scoreLabels,
    black: [[fullCensoredX, fullScoreCensored]],
    grey: [[fullEventXA, fullScoreEventA], [fullEventXB, fullScoreEventB]] },
  { title: '(h) IQR-5 data', ylab: 'Score residuals', col: 3, row: 1,
    xd: [-6.27, 16.02], yd: [-0.491, 0.626], xt: iqrXTicks, yt: scoreTicks, yl: scoreLabels,
    black: [[iqrCensoredX, iqrScoreCensored], [iqrCensoredX2, iqrScoreCensored2]],
    grey: [[iqrEventXA, iqrScoreEventA], [iqrEventXB, iqrScoreEventB],
           [iqrEventCoreXA, iqrScoreEventCoreA], [iqrEventCoreXB, iqrScoreEventCoreB]] }
];

const svg = d3.select('#chart');
svg.append('rect').attr('width', 1290).attr('height', 590).attr('fill', '#fff');

panels.forEach(drawPanel);

function drawPanel(p) {
  const [L, R] = cols[p.col], [T, B] = rows[p.row];
  const g = svg.append('g');
  const x = d3.scaleLinear().domain(p.xd).range([L, R]),
        y = d3.scaleLinear().domain(p.yd).range([B, T]);

  // dashed zero line
  g.append('line')
    .attr('x1', L).attr('x2', R).attr('y1', y(0)).attr('y2', y(0))
    .attr('stroke', '#444').attr('stroke-width', 1).attr('stroke-dasharray', '4,3');

  // points: censored first (black), events on top (grey)
  const addPts = (sets, col) => sets.forEach(([xs, ys]) => {
    g.append('g').selectAll('circle').data(d3.zip(xs, ys)).enter().append('circle')
      .attr('cx', d => x(d[0])).attr('cy', d => y(d[1])).attr('r', 2.4)
      .attr('fill', col);
  });
  addPts(p.black, BLACK);
  addPts(p.grey, GREY);

  // box
  g.append('rect').attr('x', L).attr('y', T).attr('width', R - L).attr('height', B - T)
    .attr('fill', 'none').attr('stroke', '#333').attr('stroke-width', 1);

  // x axis
  const xa = g.append('g').attr('transform', `translate(0,${B})`)
    .call(d3.axisBottom(x).tickValues(p.xt).tickSize(5).tickFormat(d3.format('d')));
  xa.select('.domain').remove();
  xa.selectAll('line').attr('stroke', '#333');
  xa.selectAll('text').attr('y', 17.6).attr('dy', 0)
    .attr('font-size', 16).attr('font-family', '"Liberation Sans", Arial, sans-serif').attr('fill', '#111');

  // y axis with rotated labels (R style)
  const ya = g.append('g').attr('transform', `translate(${L},0)`)
    .call(d3.axisLeft(y).tickValues(p.yt).tickSize(5).tickFormat((d, i) => p.yl[i]));
  ya.select('.domain').remove();
  ya.selectAll('line').attr('stroke', '#333');
  ya.selectAll('text').attr('x', 0).attr('y', 0).attr('dy', 0)
    .attr('text-anchor', 'middle').attr('transform', 'translate(-10,0) rotate(-90)')
    .attr('font-size', 16).attr('font-family', '"Liberation Sans", Arial, sans-serif').attr('fill', '#111');

  // titles
  g.append('text').attr('x', (L + R) / 2).attr('y', T - 13)
    .attr('text-anchor', 'middle').attr('font-size', 16).attr('font-weight', 'bold').text(p.title);

  const xl = g.append('text').attr('x', (L + R) / 2).attr('y', B + 32.6)
    .attr('text-anchor', 'middle').attr('font-size', 16);
  xl.append('tspan').text('Vitamin B');
  xl.append('tspan').attr('font-size', 11).attr('dy', 4).text('12');
  xl.append('tspan').attr('dy', -4).text(' (\u03bcg)');

  g.append('text').attr('transform', `translate(${L - 29.5},${(T + B) / 2}) rotate(-90)`)
    .attr('text-anchor', 'middle').attr('font-size', 16).text(p.ylab);
}
</script>
</body>
</html>
